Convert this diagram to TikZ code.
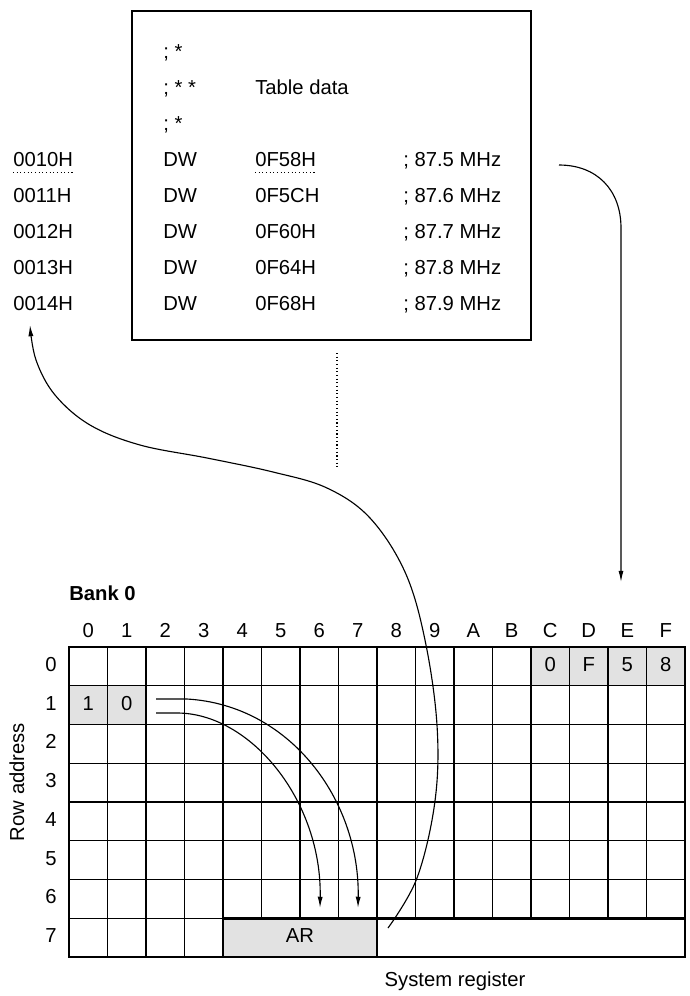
\documentclass[tikz,border=0pt]{standalone}
\usepackage{fontspec}
\setmainfont{Liberation Sans}
\usetikzlibrary{arrows.meta,calc,positioning}
\definecolor{cellgray}{HTML}{E2E2E2}

\begin{document}
\begin{tikzpicture}[x=0.025cm,y=-0.025cm,>={Latex[length=8pt,width=3.6pt]},
    txt/.style={inner sep=0pt,text height=0.72em,text depth=0pt,font=\fontsize{14.4}{17}\selectfont},
    boldtxt/.style={txt,font=\fontsize{14.4}{17}\selectfont\bfseries},
    gridline/.style={line width=0.85pt},
    border/.style={line width=2.1pt},
    uline/.style={line width=0.9pt,dash pattern=on 0.8pt off 1.8pt},
    link/.style={->,line width=0.8pt}]
  \useasboundingbox (0,0) rectangle (690,996);
  \def\gx{69}\def\gy{647}\def\cw{38.5}\def\ch{38.75}

  % program listing
  \draw[border] (132,11) rectangle (531,340);
  \node[txt,anchor=west] (star1) at (163,53) {; *};
  \node[txt,anchor=west] (star2) at (163,89) {; * *};
  \node[txt,anchor=west] (title) at (255,89) {Table data};
  \node[txt,anchor=west] (star3) at (163,125) {; *};
  \foreach \i/\v/\f [count=\k from 0] in {0/58/5,1/5C/6,2/60/7,3/64/8,4/68/9} {
    \node[txt,anchor=west] (addr\i) at (13,161+36*\k) {001\i H};
    \node[txt,anchor=west] (dw\i) at (163,161+36*\k) {DW};
    \node[txt,anchor=west] (val\i) at (255,161+36*\k) {0F\v H};
    \node[txt,anchor=west] (mhz\i) at (403,161+36*\k) {; 87.\f{} MHz};
  }
  \draw[uline] ([yshift=-4.5pt]addr0.south west) -- ([yshift=-4.5pt]addr0.south east);
  \draw[uline] ([yshift=-4.5pt]val0.south west) -- ([yshift=-4.5pt]val0.south east);
  \draw[uline] (337,353) -- (337,467);

  % bank 0
  \node[boldtxt,anchor=west] (bank) at (69,595) {Bank 0};
  \fill[cellgray] (\gx+12*\cw,\gy) rectangle (\gx+16*\cw,\gy+\ch);
  \fill[cellgray] (\gx,\gy+\ch) rectangle (\gx+2*\cw,\gy+2*\ch);
  \fill[cellgray] (\gx+4*\cw,\gy+7*\ch) rectangle (\gx+8*\cw,\gy+8*\ch);
  \foreach \r in {1,...,7}
    \draw[gridline] (\gx,\gy+\r*\ch) -- (\gx+16*\cw,\gy+\r*\ch);
  \foreach \c in {1,...,15}
    \draw[gridline] (\gx+\c*\cw,\gy) -- (\gx+\c*\cw,\gy+7*\ch);
  \foreach \c in {1,2,3,8}
    \draw[gridline] (\gx+\c*\cw,\gy+7*\ch) -- (\gx+\c*\cw,\gy+8*\ch);
  \draw[border] (\gx,\gy) rectangle (\gx+16*\cw,\gy+8*\ch);
  \draw[border] (\gx+16*\cw,\gy+7*\ch) -- (\gx+4*\cw,\gy+7*\ch) -- (\gx+4*\cw,\gy+8*\ch);

  \foreach \c [count=\n from 0] in {0,1,2,3,4,5,6,7,8,9,A,B,C,D,E,F}
    \node[txt] (col\c) at (\gx+\n*\cw+\cw/2,632) {\c};
  \foreach \r in {0,...,7}
    \node[txt] (row\r) at (51,\gy+\r*\ch+\ch/2) {\r};
  \node[txt,rotate=90] (rowaddr) at (19,782) {Row address};

  \foreach \c/\d in {12/0,13/F,14/5,15/8}
    \node[txt] (data\c) at (\gx+\c*\cw+\cw/2,\gy+\ch/2) {\d};
  \node[txt] (hibyte) at (\gx+\cw/2,\gy+1.5*\ch) {1};
  \node[txt] (lobyte) at (\gx+1.5*\cw,\gy+1.5*\ch) {0};
  \node[txt] (ar) at (\gx+6*\cw,\gy+7.5*\ch) {AR};
  \node[txt] (sysreg) at (455,981) {System register};

  % connectors
  \coordinate (p1) at (156,699);
  \coordinate (p2) at (156,713);
  \coordinate (q1) at (358,908);
  \coordinate (q2) at (320,908);
  \coordinate (arout) at (388,928);
  \coordinate (tip4) at (30,325);
  \coordinate (mhzout) at (559,165);
  \coordinate (tipE) at (621,582);
  \draw[link] (p1) -- (187,699) .. controls (290,705) and (360,800) .. (q1);
  \draw[link] (p2) -- (177,713) .. controls (250,713) and (322,800) .. (q2);
  \draw[link] plot[smooth,tension=0.6] coordinates {(arout) (417,878) (435,801) (437,725)
    (425,640) (405,572) (370,518) (327,488) (273,472) (207,458) (140,445)
    (90,425) (55,395) (36,360) (tip4)};
  \draw[link] (mhzout) .. controls (597,165) and (621,190) .. (621,228) -- (tipE);
\end{tikzpicture}
\end{document}
